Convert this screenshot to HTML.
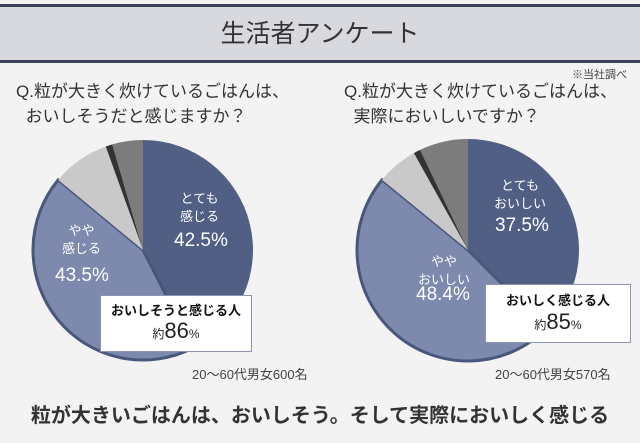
<!DOCTYPE html>
<html><head><meta charset="utf-8"><style>
body{margin:0;width:640px;height:443px;background:#f3f3f3;font-family:"Liberation Sans","Noto Sans CJK JP",sans-serif;overflow:hidden;position:relative}
.t{position:absolute;white-space:nowrap}
</style></head><body>
<div style="position:absolute;left:0;top:4px;width:640px;height:3px;background:#3a4257"></div>
<div style="position:absolute;left:0;top:7px;width:640px;height:53px;background:#d8d9de"></div>
<div style="position:absolute;left:0;top:60px;width:640px;height:3px;background:#3a4257"></div>
<div class="t" style="left:0;width:640px;text-align:center;top:14px;font-size:25px;color:#333">生活者アンケート</div>
<div class="t" style="left:572px;top:66px;font-size:11px;color:#444">※当社調べ</div>
<div class="t" style="left:16px;top:79px;font-size:17px;color:#333;line-height:25px">Q.粒が大きく炊けているごはんは、<br>&nbsp;&nbsp;おいしそうだと感じますか？</div>
<div class="t" style="left:344px;top:79px;font-size:17px;color:#333;line-height:25px">Q.粒が大きく炊けているごはんは、<br>&nbsp;&nbsp;実際においしいですか？</div>
<svg width="640" height="443" style="position:absolute;left:0;top:0" id="s"></svg>
<div class="t" style="left:180px;top:190px;font-size:13px;color:#fff;text-align:center;line-height:18px">とても<br>感じる</div>
<div class="t" style="left:174px;top:230px;font-size:19px;color:#fff">42.5%</div>
<div class="t" style="left:62px;top:222px;font-size:13px;color:#fff;text-align:center;line-height:18px">やや<br>感じる</div>
<div class="t" style="left:55px;top:265px;font-size:19px;color:#fff">43.5%</div>
<div class="t" style="left:494px;top:177px;font-size:13px;color:#fff;text-align:center;line-height:18px">とても<br>おいしい</div>
<div class="t" style="left:495px;top:215px;font-size:19px;color:#fff">37.5%</div>
<div class="t" style="left:418px;top:253px;font-size:13px;color:#fff;text-align:center;line-height:18px">やや<br>おいしい</div>
<div class="t" style="left:416px;top:284px;font-size:19px;color:#fff">48.4%</div>
<div style="position:absolute;left:100px;top:295px;width:150px;height:55px;background:#fff;border:1px solid #8a93ad"></div>
<div class="t" style="left:100px;width:152px;text-align:center;top:300px;font-size:13px;color:#111;font-weight:bold">おいしそうと感じる人</div>
<div class="t" style="left:100px;width:152px;text-align:center;top:318px;font-size:12px;color:#222">約<span style="font-size:22px">86</span>%</div>
<div style="position:absolute;left:485px;top:284px;width:144px;height:57px;background:#fff;border:1px solid #8a93ad"></div>
<div class="t" style="left:485px;width:146px;text-align:center;top:290px;font-size:13px;color:#111;font-weight:bold">おいしく感じる人</div>
<div class="t" style="left:485px;width:146px;text-align:center;top:309px;font-size:12px;color:#222">約<span style="font-size:22px">85</span>%</div>
<div class="t" style="left:192px;top:364px;font-size:13px;color:#444">20～60代男女600名</div>
<div class="t" style="left:495px;top:364px;font-size:13px;color:#444">20～60代男女570名</div>
<div class="t" style="left:0;width:640px;text-align:center;top:399px;font-size:20px;font-weight:bold;color:#333">粒が大きいごはんは、おいしそう。そして実際においしく感じる</div>
<script>
var s=document.getElementById('s'),ns='http://www.w3.org/2000/svg';
function pie(cx,cy,r,d){var cols=['#515f85','#7d89ad','#c9c9c9','#333','#7c7c7c'];var a=0;
d.forEach(function(v,i){var a2=a+v/100*2*Math.PI;
var x1=cx+r*Math.sin(a),y1=cy-r*Math.cos(a),x2=cx+r*Math.sin(a2),y2=cy-r*Math.cos(a2);
var p=document.createElementNS(ns,'path');
p.setAttribute('d','M'+cx+' '+cy+'L'+x1+' '+y1+'A'+r+' '+r+' 0 '+(a2-a>Math.PI?1:0)+' 1 '+x2+' '+y2+'Z');
p.setAttribute('fill',cols[i]);
if(i==1){p.setAttribute('stroke','#4a577c');p.setAttribute('stroke-width','3');}
s.appendChild(p);a=a2;});}
pie(143,250,110,[42.5,43.5,8.5,1,4.5]);
pie(468,250,111,[37.5,48.4,6,1,7.1]);
</script>
</body></html>
